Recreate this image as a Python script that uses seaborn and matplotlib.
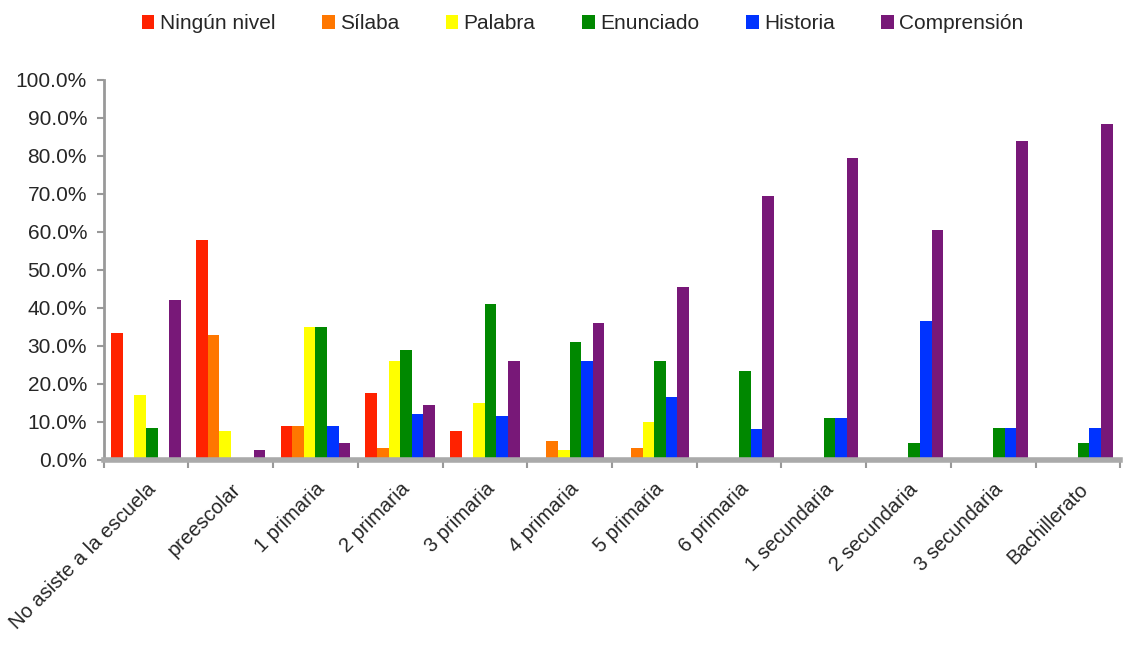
import pandas as pd
import seaborn as sns
import matplotlib.pyplot as plt
from matplotlib.ticker import FuncFormatter, FixedLocator

# datos (%)
categorias = ['No asiste a la escuela', 'preescolar', '1 primaria', '2 primaria', '3 primaria',
              '4 primaria', '5 primaria', '6 primaria', '1 secundaria', '2 secundaria',
              '3 secundaria', 'Bachillerato']
niveles = ['Ningún nivel', 'Sílaba', 'Palabra', 'Enunciado', 'Historia', 'Comprensión']

ningun = [33.5, 58.0, 9.0, 17.5, 7.5, 0.0, 0.0, 0.0, 0.0, 0.0, 0.0, 0.0]
silaba = [0.0, 33.0, 9.0, 3.0, 0.3, 5.0, 3.0, 0.0, 0.0, 0.0, 0.0, 0.0]
palabra = [17.0, 7.5, 35.0, 26.0, 15.0, 2.5, 10.0, 0.0, 0.0, 0.0, 0.0, 0.0]
enunciado = [8.5, 0.0, 35.0, 29.0, 41.0, 31.0, 26.0, 23.5, 11.0, 4.5, 8.5, 4.5]
historia = [0.3, 0.0, 9.0, 12.0, 11.5, 26.0, 16.5, 8.0, 11.0, 36.5, 8.5, 8.5]
comprension = [42.0, 2.5, 4.5, 14.5, 26.0, 36.0, 45.5, 69.5, 79.5, 60.5, 84.0, 88.5]

colores = ['#FF2200', '#FF7700', '#FFFF00', '#008800', '#0033FF', '#781878']

df = pd.DataFrame({'Ningún nivel': ningun, 'Sílaba': silaba, 'Palabra': palabra,
                   'Enunciado': enunciado, 'Historia': historia, 'Comprensión': comprension},
                  index=categorias)
df = df.reset_index().rename(columns={'index': 'grado'})
largo = df.melt(id_vars='grado', var_name='nivel', value_name='pct')

sns.set_style('white')
plt.rcParams['font.family'] = ['Liberation Sans', 'DejaVu Sans']

fig = plt.figure(figsize=(11.27, 6.45), dpi=100)
ax = fig.add_axes([0.092, 0.287, 0.902, 0.589])

sns.barplot(data=largo, x='grado', y='pct', hue='nivel', hue_order=niveles,
            order=categorias, palette=colores, width=0.82, saturation=1,
            edgecolor='none', ax=ax)

ax.set_ylim(0, 100)
ax.set_xlim(-0.5, len(categorias) - 0.5)
ax.set_yticks(range(0, 101, 10))
ax.yaxis.set_major_formatter(FuncFormatter(lambda v, p: f'{v:.1f}%'))
ax.tick_params(axis='y', labelsize=15, length=5, color='#999999', width=1.5, left=True, pad=7)
ax.tick_params(axis='x', labelsize=14.5, length=0, pad=14)
ax.xaxis.set_minor_locator(FixedLocator([i - 0.5 for i in range(len(categorias) + 1)]))
ax.tick_params(axis='x', which='minor', bottom=True, length=6, color='#999999', width=1.5)
plt.setp(ax.get_xticklabels(), rotation=45, ha='right', rotation_mode='anchor')
ax.set_xlabel('')
ax.set_ylabel('')

for lado in ['top', 'right']:
    ax.spines[lado].set_visible(False)
ax.spines['left'].set_color('#999999')
ax.spines['left'].set_linewidth(2)
ax.spines['bottom'].set_color('#aaaaaa')
ax.spines['bottom'].set_linewidth(4)

h, l = ax.get_legend_handles_labels()
ax.get_legend().remove()
fig.legend(h, l, loc='center', bbox_to_anchor=(0.517, 0.963), ncol=6, frameon=False,
           fontsize=15, handlelength=0.6, handleheight=0.6, handletextpad=0.25,
           columnspacing=2.25)

fig.savefig('out.png', dpi=100)
